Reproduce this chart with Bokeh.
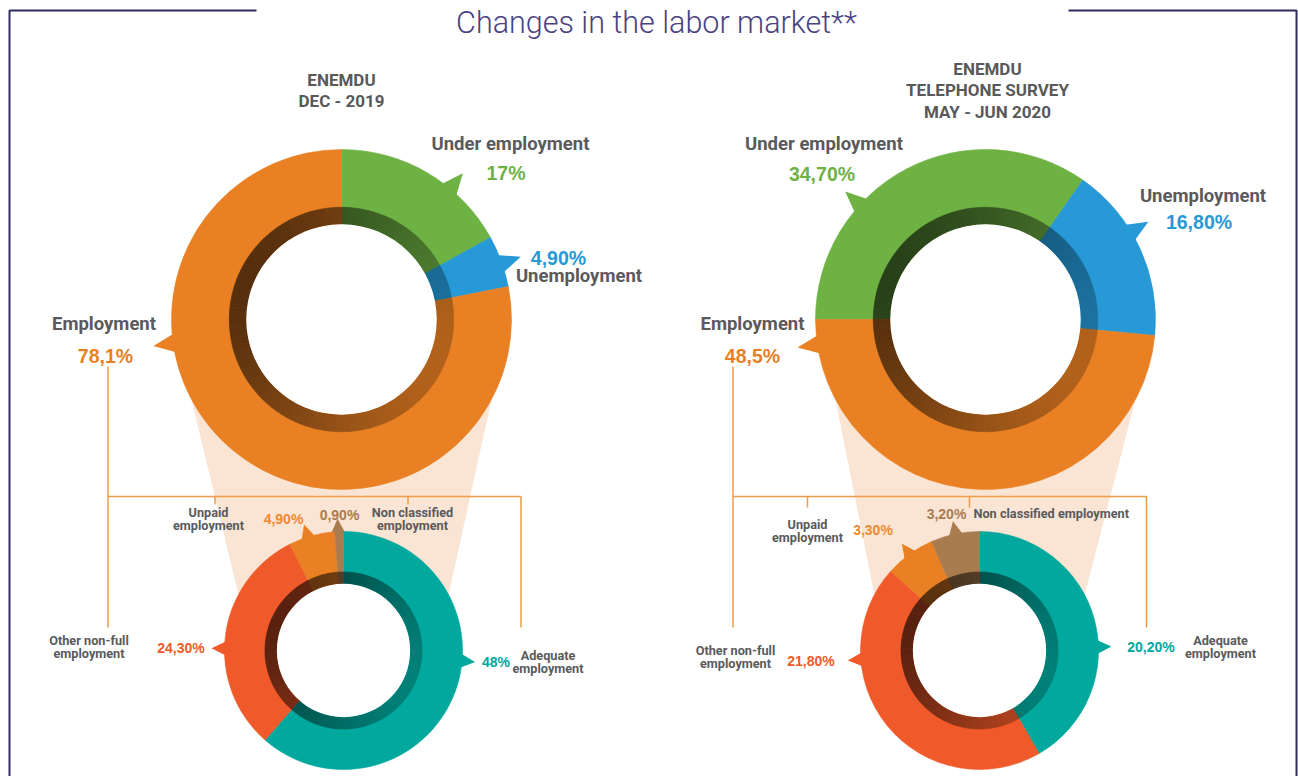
import math
from bokeh.plotting import figure
from bokeh.models import Range1d
from bokeh.core.properties import value
from bokeh.embed import file_html
from bokeh.resources import INLINE

# ---------------- data ----------------
top_categories = ["Under employment", "Unemployment", "Employment"]
dec2019_top = [17.0, 4.9, 78.1]
dec2019_top_labels = ["17%", "4,90%", "78,1%"]
jun2020_top = [34.7, 16.8, 48.5]
jun2020_top_labels = ["34,70%", "16,80%", "48,5%"]

emp_categories = ["Adequate employment", "Other non-full employment",
                  "Unpaid employment", "Non classified employment"]
dec2019_emp = [48.0, 24.3, 4.9, 0.9]
dec2019_emp_labels = ["48%", "24,30%", "4,90%", "0,90%"]
jun2020_emp = [20.2, 21.8, 3.3, 3.2]
jun2020_emp_labels = ["20,20%", "21,80%", "3,30%", "3,20%"]

title_text = "Changes in the labor market**"
header_dec = ["ENEMDU", "DEC - 2019"]
header_jun = ["ENEMDU", "TELEPHONE SURVEY", "MAY - JUN 2020"]

# ---------------- style ----------------
TOP_COLORS = ["#6FB244", "#2699D6", "#E98024"]
EMP_COLORS = ["#00A89D", "#F05A2A", "#E98024", "#A97C50"]
EMP_TEXT_COLORS = ["#00A89D", "#F05A2A", "#EE8A33", "#A97C50"]
GRAY = "#5A5A5C"
FUNNEL = "#FAE4D4"
LINE_OR = "#F09A4A"
NAVY = "#2E2B5F"
NARROW = "Roboto, sans-serif"
SANS = "Liberation Sans, Arial, sans-serif"
LIGHT = "Roboto Light, Liberation Sans, sans-serif"

W, H = 1298, 776
p = figure(width=W, height=H, x_range=Range1d(0, W), y_range=Range1d(0, H),
           x_axis_type=None, y_axis_type=None, toolbar_location=None,
           output_backend="svg", min_border=0, outline_line_color=None,
           background_fill_color="white", border_fill_color="white")


def Y(y):
    return H - y


def pol(cx, cy, r, deg):
    a = math.radians(deg)
    return cx + r * math.cos(a), Y(cy) + r * math.sin(a)


def mix_dark(hexcol, a):
    h = hexcol.lstrip("#")
    rgb = [int(h[i:i + 2], 16) for i in (0, 2, 4)]
    return "#%02x%02x%02x" % tuple(int(round(c * (1 - a))) for c in rgb)


def seg_angles(values, start_deg):
    total = sum(values)
    out = []
    cur = start_deg
    for v in values:
        span = v / total * 360.0
        out.append((cur - span, cur))
        cur -= span
    return out


def funnel(ct, rt, cb, rb):
    pts = [pol(ct[0], ct[1], rt, 208), pol(ct[0], ct[1], rt, 332),
           pol(cb[0], cb[1], rb, 28), pol(cb[0], cb[1], rb, 152)]
    p.patch([q[0] for q in pts], [q[1] for q in pts], fill_color=FUNNEL, line_color=None)


def donut(cx, cy, r, values, colors, start_deg, tail_angles, tail_ext, tail_hw):
    hole = r * 0.56
    ring = r * 0.66
    segs = seg_angles(values, start_deg)
    # tails
    xs, ys = [], []
    for ta in tail_angles:
        b1 = pol(cx, cy, r - 4, ta - tail_hw)
        b2 = pol(cx, cy, r - 4, ta + tail_hw)
        tp = pol(cx, cy, r + tail_ext, ta)
        xs.append([b1[0], tp[0], b2[0]])
        ys.append([b1[1], tp[1], b2[1]])
    p.patches(xs, ys, fill_color=colors[:len(xs)], line_color=None)
    # main segments
    p.annular_wedge(x=cx, y=Y(cy), inner_radius=hole, outer_radius=r,
                    start_angle=[math.radians(a) for a, b in segs],
                    end_angle=[math.radians(b) for a, b in segs],
                    fill_color=colors, line_color=colors, line_width=0.6)
    # dark gradient ring
    sa, ea, cols = [], [], []
    for (a0, a1), col in zip(segs, colors):
        n = max(1, int(math.ceil((a1 - a0) / 2.0)))
        step = (a1 - a0) / n
        for k in range(n):
            s = a0 + k * step
            mid = s + step / 2
            alpha = 0.44 + 0.2 * math.cos(math.radians(mid - 157))
            sa.append(math.radians(s))
            ea.append(math.radians(s + step))
            cols.append(mix_dark(col, alpha))
    p.annular_wedge(x=cx, y=Y(cy), inner_radius=hole, outer_radius=ring,
                    start_angle=sa, end_angle=ea, fill_color=cols,
                    line_color=cols, line_width=0.6)
    p.circle(x=[cx], y=[Y(cy)], radius=hole, fill_color="white", line_color=None)


def txt(s, x, y, size, color, font=NARROW, bold=True, align="center", baseline="middle"):
    p.text(x=[x], y=[Y(y)], text=[s], text_font=value(font),
           text_font_size=value("%spx" % size), text_font_style="bold" if bold else "normal",
           text_color=color, text_align=align, text_baseline=baseline)


# ---------------- layout ----------------
TL = (341, 319)
TR = (985, 319)
BL = (343, 650)
BR = (979, 650)
RT, RB = 170, 119

funnel(TL, RT, BL, RB)
funnel(TR, RT, BR, RB)

# brackets
for (xl, xr, ticks, tlen) in [(107.5, 520.5, [214.5, 407.5], 8), (732.5, 1146, [807, 969], 11)]:
    p.line([xl, xl], [Y(366), Y(627)], line_color=LINE_OR, line_width=1.5)
    p.line([xl, xr, xr], [Y(496), Y(496), Y(627)], line_color=LINE_OR, line_width=1.5)
    for tx in ticks:
        p.line([tx, tx], [Y(496), Y(496 + tlen)], line_color=LINE_OR, line_width=1.5)

donut(TL[0], TL[1], RT, dec2019_top, TOP_COLORS, 90, [50.3, 19.3, 188], 20, 3.6)
donut(TR[0], TR[1], RT, jun2020_top, TOP_COLORS, 180, [137.6, 31, 188.5], 20, 3.6)
donut(BL[0], BL[1], RB, dec2019_emp, EMP_COLORS, 90, [-5, 179, 107.4, 92.6], 13, 4.2)
donut(BR[0], BR[1], RB, jun2020_emp, EMP_COLORS, 90, [1.7, 184.3, 126, 101.6], 13, 4.2)

# frame
p.line([256, 9, 9], [Y(10), Y(10), Y(790)], line_color=NAVY, line_width=2)
p.line([1068, 1296, 1296], [Y(10), Y(10), Y(790)], line_color=NAVY, line_width=2)

# title
txt(title_text, 656, 22, 30.5, "#4A4282", font=LIGHT, bold=False, baseline="alphabetic")

# headers
HSZ = 17
for i, s in enumerate(header_dec):
    txt(s, 341, 79.5 + 20.5 * i, HSZ, "#58595B")
for i, s in enumerate(header_jun):
    txt(s, 987, 68 + 21.5 * i, HSZ, "#58595B")

# top-left labels
TOPSZ, PCTSZ = 18.5, 19.5
txt(top_categories[0], 510, 143, TOPSZ, GRAY)
txt(dec2019_top_labels[0], 505.5, 172, PCTSZ, TOP_COLORS[0], font=SANS)
txt(dec2019_top_labels[1], 558, 257, PCTSZ, TOP_COLORS[1], font=SANS)
txt(top_categories[1], 578.5, 275.5, TOPSZ, GRAY)
txt(top_categories[2], 103.5, 323, TOPSZ, GRAY)
txt(dec2019_top_labels[2], 105, 355, PCTSZ, TOP_COLORS[2], font=SANS)

# top-right labels
txt(top_categories[0], 823.5, 143, TOPSZ, GRAY)
txt(jun2020_top_labels[0], 821.5, 173, PCTSZ, TOP_COLORS[0], font=SANS)
txt(top_categories[1], 1202.5, 195, TOPSZ, GRAY)
txt(jun2020_top_labels[1], 1198.5, 221.5, PCTSZ, TOP_COLORS[1], font=SANS)
txt(top_categories[2], 752, 323, TOPSZ, GRAY)
txt(jun2020_top_labels[2], 752, 355, PCTSZ, TOP_COLORS[2], font=SANS)

# bottom labels
BSZ, BPSZ = 12.7, 14


def two_line(name, x, y, gap=13.4):
    words = name.split(" ")
    first = " ".join(words[:-1])
    txt(first, x, y, BSZ, GRAY)
    txt(words[-1], x, y + gap, BSZ, GRAY)


# bottom-left
two_line(emp_categories[0], 547.5, 655)
txt(dec2019_emp_labels[0], 495.5, 661, BPSZ, EMP_TEXT_COLORS[0], font=SANS)
two_line(emp_categories[1], 88.5, 640)
txt(dec2019_emp_labels[1], 180.5, 647, BPSZ, EMP_TEXT_COLORS[1], font=SANS)
two_line(emp_categories[2], 208, 511.5)
txt(dec2019_emp_labels[2], 283, 518, BPSZ, EMP_TEXT_COLORS[2], font=SANS)
two_line(emp_categories[3], 412, 511.5)
txt(dec2019_emp_labels[3], 339, 514, BPSZ, EMP_TEXT_COLORS[3], font=SANS)

# bottom-right
two_line(emp_categories[0], 1220, 640)
txt(jun2020_emp_labels[0], 1150.5, 646, BPSZ, EMP_TEXT_COLORS[0], font=SANS)
two_line(emp_categories[1], 735, 650)
txt(jun2020_emp_labels[1], 810.5, 660, BPSZ, EMP_TEXT_COLORS[1], font=SANS)
two_line(emp_categories[2], 807, 524)
txt(jun2020_emp_labels[2], 872.5, 529, BPSZ, EMP_TEXT_COLORS[2], font=SANS)
txt(emp_categories[3], 973, 513, BSZ, GRAY, align="left")
txt(jun2020_emp_labels[3], 946, 513, BPSZ, EMP_TEXT_COLORS[3], font=SANS)

open("out.html", "w").write(file_html(p, INLINE))
